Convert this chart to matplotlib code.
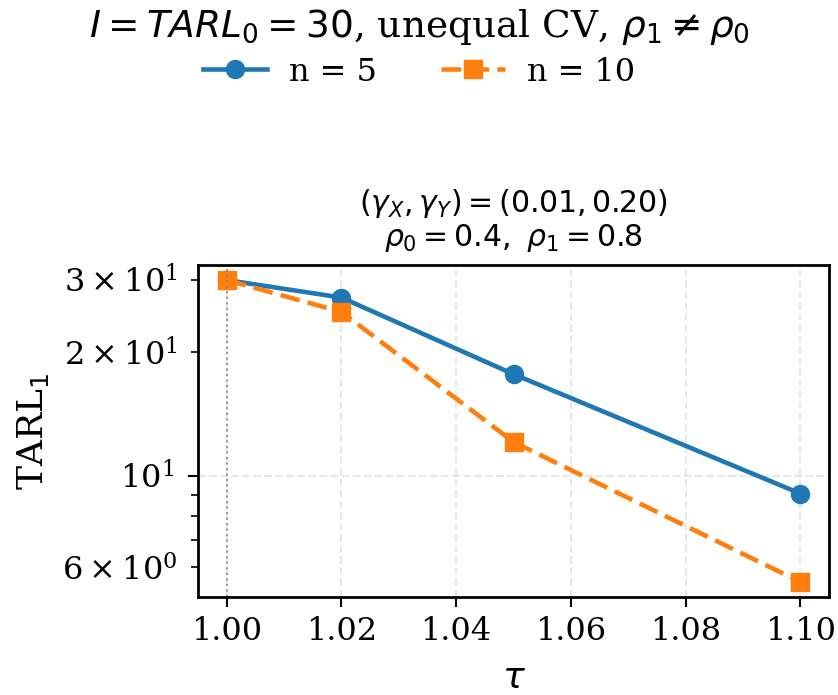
import matplotlib
matplotlib.use("Agg")
import matplotlib.pyplot as plt

plt.rcParams["font.family"] = "DejaVu Serif"
plt.rcParams["mathtext.fontset"] = "dejavusans"

tau = [1.00, 1.02, 1.05, 1.10]
tarl_n5 = [30.0, 27.2, 17.7, 9.06]
tarl_n10 = [30.0, 25.1, 12.1, 5.52]
labels = ["n = 5", "n = 10"]
xticks = [1.00, 1.02, 1.04, 1.06, 1.08, 1.10]

fig = plt.figure(figsize=(8.38, 6.95), dpi=100)
ax = fig.add_axes([198 / 838, 1 - 597 / 695, 631 / 838, 332 / 695])

ax.plot(tau, tarl_n5, "-o", color="#1f77b4", lw=3.3, ms=13, label=labels[0])
ax.plot(tau, tarl_n10, "--s", color="#ff7f0e", lw=3.3, ms=13, dashes=(4.3, 1.8), label=labels[1])
ax.axvline(1.00, color="grey", ls=":", lw=1.5, alpha=0.8)

ax.set_yscale("log")
ax.set_xticks(xticks)
ax.set_xticklabels([f"{t:.2f}" for t in xticks])
ax.grid(True, ls="--", lw=1.5, alpha=0.3)
ax.tick_params(which="both", labelsize=23)
ax.tick_params(which="major", width=1.5, length=7)
ax.tick_params(which="minor", width=1.2, length=5)
ax.tick_params(axis="x", pad=7)
ax.tick_params(axis="y", which="both", pad=10)
for s in ax.spines.values():
    s.set_linewidth(2)

ax.set_xlabel(r"$\tau$", fontsize=26, labelpad=10)
ax.set_ylabel(r"TARL$_1$", fontsize=26, labelpad=8)
ax.set_title(r"$(\gamma_X, \gamma_Y) = (0.01, 0.20)$" + "\n" + r"$\rho_0 = 0.4,\ \rho_1 = 0.8$",
             fontsize=21.5, pad=14, linespacing=1.05)

fig.suptitle(r"$I = TARL_0 = 30$, unequal CV, $\rho_1 \neq \rho_0$", fontsize=27, y=0.99)
h, l = ax.get_legend_handles_labels()
fig.legend(h, l, loc="upper center", bbox_to_anchor=(0.5, 0.96), ncol=2, frameon=False,
           fontsize=23, handlelength=2.0, handletextpad=0.7, columnspacing=2.0)

fig.savefig("out.png", dpi=100)
